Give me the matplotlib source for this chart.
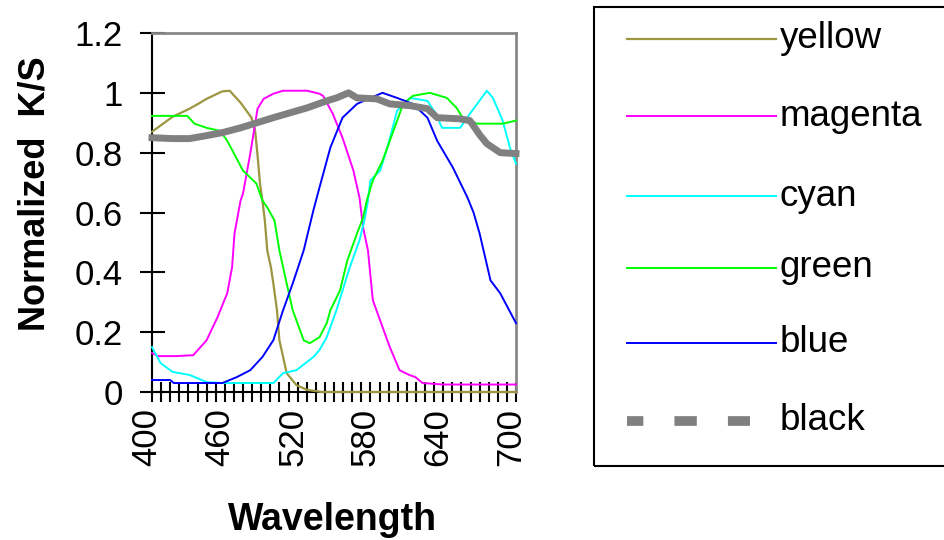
import numpy as np
from matplotlib import pyplot as plt
from matplotlib.lines import Line2D
from matplotlib.patches import Rectangle
from matplotlib.transforms import ScaledTranslation

plt.rcParams['font.family'] = ['Liberation Sans', 'DejaVu Sans']

# values (wavelength nm, normalized K/S)
yellow_x = [400, 417, 431, 438, 445, 458, 464, 473, 482, 485, 487, 489, 491, 493, 495,
            498, 500, 503, 505, 511, 519, 528, 540, 600, 700]
yellow_y = [0.87, 0.92, 0.947, 0.963, 0.98, 1.005, 1.007, 0.967, 0.917, 0.873, 0.79, 0.697,
            0.64, 0.573, 0.473, 0.417, 0.363, 0.273, 0.173, 0.063, 0.023, 0.007, 0.0, 0.0, 0.0]

magenta_x = [400, 405, 420, 434, 445, 454, 462, 466, 468, 473, 475, 481, 487, 492, 500, 508,
             528, 538, 541, 549, 557, 566, 571, 574, 578, 582, 590, 596, 604, 612, 617, 623,
             640, 700]
magenta_y = [0.13, 0.12, 0.12, 0.123, 0.173, 0.25, 0.33, 0.417, 0.53, 0.64, 0.663, 0.797,
             0.947, 0.98, 0.997, 1.007, 1.007, 0.997, 0.99, 0.93, 0.85, 0.74, 0.65, 0.55,
             0.473, 0.307, 0.217, 0.15, 0.073, 0.057, 0.05, 0.03, 0.025, 0.025]

cyan_x = [400, 407, 417, 431, 445, 458, 500, 508, 519, 533, 538, 544, 552, 563, 571, 575,
          578, 580, 588, 594, 602, 613, 627, 634, 639, 654, 662, 676, 681, 689, 695, 700]
cyan_y = [0.15, 0.097, 0.067, 0.057, 0.033, 0.03, 0.03, 0.063, 0.073, 0.117, 0.14, 0.183,
          0.273, 0.417, 0.507, 0.573, 0.64, 0.707, 0.74, 0.817, 0.94, 0.983, 0.973, 0.93,
          0.883, 0.883, 0.93, 1.007, 0.983, 0.907, 0.817, 0.763]

green_x = [400, 429, 435, 445, 456, 462, 475, 486, 491, 495, 501, 505, 511, 516, 525, 530,
           538, 544, 547, 555, 561, 569, 574, 577, 582, 590, 599, 607, 615, 629, 643, 651,
           656, 668, 689, 700]
green_y = [0.923, 0.923, 0.897, 0.883, 0.873, 0.84, 0.74, 0.697, 0.64, 0.617, 0.573, 0.473,
           0.363, 0.273, 0.173, 0.163, 0.183, 0.23, 0.273, 0.34, 0.44, 0.53, 0.583, 0.64,
           0.707, 0.773, 0.873, 0.963, 0.99, 1.0, 0.983, 0.95, 0.917, 0.897, 0.897, 0.907]

blue_x = [400, 415, 418, 458, 470, 481, 491, 500, 508, 516, 525, 533, 538, 547, 557, 569,
          580, 590, 602, 615, 627, 635, 648, 660, 665, 670, 679, 687, 700]
blue_y = [0.04, 0.04, 0.03, 0.03, 0.05, 0.073, 0.117, 0.173, 0.273, 0.363, 0.473, 0.607,
          0.683, 0.817, 0.917, 0.963, 0.983, 1.0, 0.983, 0.963, 0.917, 0.84, 0.75, 0.65,
          0.6, 0.53, 0.373, 0.33, 0.23]

black_x = [400, 417, 431, 445, 458, 473, 500, 528, 544, 552, 562, 569, 585, 596, 613, 627,
           635, 654, 662, 670, 676, 687, 700]
black_y = [0.85, 0.847, 0.847, 0.857, 0.867, 0.883, 0.917, 0.95, 0.973, 0.983, 1.0, 0.983,
           0.98, 0.963, 0.957, 0.947, 0.917, 0.913, 0.907, 0.86, 0.83, 0.8, 0.797]

names = ["yellow", "magenta", "cyan", "green", "blue", "black"]
xs = [yellow_x, magenta_x, cyan_x, green_x, blue_x, black_x]
ys = [yellow_y, magenta_y, cyan_y, green_y, blue_y, black_y]
colors = ["#9c9640", "#ff00ff", "#00ffff", "#00ff00", "#0000ff", "#808080"]
widths = [1.6, 1.4, 1.4, 1.4, 1.4, 5.0]

x_labels = [400, 460, 520, 580, 640, 700]
y_labels = [0, 0.2, 0.4, 0.6, 0.8, 1, 1.2]

W, H = 945, 540
fig = plt.figure(figsize=(W / 100, H / 100), dpi=100)
ax = fig.add_axes([152 / W, 1 - 392 / H, (516 - 152) / W, (392 - 33) / H])

for x, y, c, lw, n in zip(xs, ys, colors, widths, names):
    ax.plot(x, y, color=c, lw=lw, label=n, clip_on=False,
            zorder=4 if n == "black" else 3)

ax.set_xlim(400, 700)
ax.set_ylim(0, 1.2)
ax.set_xticks(x_labels)
ax.set_xticklabels([str(v) for v in x_labels], rotation=90, fontsize=25)
ax.set_xticks(np.arange(400, 700.1, 7.5), minor=True)
ax.set_yticks(y_labels)
ax.set_yticklabels(["{:g}".format(v) for v in y_labels], fontsize=25)
ax.tick_params(axis="x", which="both", direction="inout", length=15, width=1.5, pad=1)
ax.tick_params(axis="y", direction="inout", length=18, width=1.5, pad=12)

# excel puts the category labels a little left of the tick
shift = ScaledTranslation(-5 / 100, -4 / 100, fig.dpi_scale_trans)
for lab in ax.get_xticklabels():
    lab.set_transform(lab.get_transform() + shift)

for s in ["left", "bottom"]:
    ax.spines[s].set_linewidth(1.5)
    ax.spines[s].set_color("black")
for s in ["top", "right"]:
    ax.spines[s].set_linewidth(2)
    ax.spines[s].set_color("#888888")

fig.text(35 / W, 1 - 194 / H, "Normalized  K/S", rotation=90, fontsize=26,
         fontweight="bold", ha="center", va="center")
fig.text(333 / W, 1 - 520 / H, "Wavelength", fontsize=27, fontweight="bold",
         ha="center", va="center")

# legend box, drawn by hand to match the placement
fig.add_artist(Rectangle((594 / W, 1 - 466 / H), (960 - 594) / W, (466 - 7) / H,
                         transform=fig.transFigure, fill=False, ec="black", lw=1.5,
                         clip_on=False))
row_y = [39, 116, 196, 268, 343, 421]
for n, c, lw, yy in zip(names, colors, widths, row_y):
    if n == "black":
        fig.add_artist(Line2D([627 / W, 750 / W], [1 - yy / H, 1 - yy / H], color=c,
                              lw=7, linestyle=(0.62, (2.3, 3.2)), solid_capstyle="butt",
                              dash_capstyle="butt", transform=fig.transFigure))
    else:
        fig.add_artist(Line2D([627 / W, 776 / W], [1 - yy / H, 1 - yy / H], color=c,
                              lw=lw, transform=fig.transFigure))
    fig.text(780 / W, 1 - yy / H, n, fontsize=26.5, ha="left", va="center")

fig.savefig("out.png", dpi=100)
